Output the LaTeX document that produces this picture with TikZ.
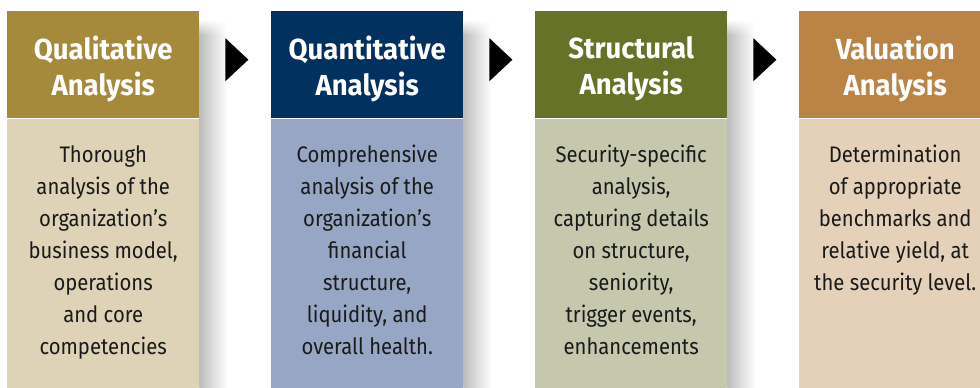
\documentclass[tikz,border=0pt]{standalone}
\usepackage{fontspec}
\setmainfont{Fira Sans}
\newfontfamily\panelfont[FakeStretch=0.9]{Fira Sans}
\newfontfamily\titlefont[FakeStretch=0.95]{Fira Sans}
\usetikzlibrary{calc,fadings}

\definecolor{headA}{HTML}{A68A3B}
\definecolor{bodyA}{HTML}{DED3B7}
\definecolor{headB}{HTML}{02315F}
\definecolor{bodyB}{HTML}{97A6C4}
\definecolor{headC}{HTML}{667227}
\definecolor{bodyC}{HTML}{C6C8AD}
\definecolor{headD}{HTML}{B98446}
\definecolor{bodyD}{HTML}{E5D1BA}
\definecolor{inktext}{HTML}{1A1A1A}

\begin{document}
\begin{tikzpicture}[x=1pt,y=-1pt,
  head/.style={minimum width=192pt, minimum height=107pt, inner sep=0pt,
    anchor=north west},
  title/.style={text=white, align=center, inner sep=0pt,
    font=\titlefont\bfseries\fontsize{29}{36}\selectfont},
  panel/.style={minimum width=192pt, minimum height=270pt, inner sep=0pt,
    anchor=north west},
  desc/.style={anchor=base, align=center, text=inktext, inner sep=0pt,
    font=\panelfont\fontsize{22.5}{32}\selectfont},
  marker/.style={fill=black},
  shadowbar/.style={left color=black!26, right color=white}]

\useasboundingbox (0,0) rectangle (980,388);
\clip (0,0) rectangle (980,388);

% column headers
\node[head, fill=headA] (h1) at (7,11) {};
\node[head, fill=headB] (h2) at (271,11) {};
\node[head, fill=headC] (h3) at (535,11) {};
\node[head, fill=headD] (h4) at (799,11) {};

% soft drop shadows to the right of the first three columns
\foreach \c in {h1,h2,h3}{
  \shade[shadowbar, path fading=north]
    ($(\c.north east)+(0,8)$) rectangle ($(\c.north east)+(28,24)$);
  \shade[shadowbar]
    ($(\c.north east)+(0,24)$) rectangle ($(\c.north east)+(28,377)$);
}

% header titles
\node[title] (n1) at ($(h1.center)+(0,4)$) {Qualitative\\Analysis};
\node[title] (n2) at ($(h2.center)+(0,4)$) {Quantitative\\Analysis};
\node[title] (n3) at ($(h3.center)+(0,4)$) {Structural\\Analysis};
\node[title] (n4) at ($(h4.center)+(0,4)$) {Valuation\\Analysis};

% description panels
\node[panel, fill=bodyA] (b1) at (h1.south west) {};
\node[panel, fill=bodyB] (b2) at (h2.south west) {};
\node[panel, fill=bodyC] (b3) at (h3.south west) {};
\node[panel, fill=bodyD] (b4) at (h4.south west) {};

% description texts (anchored at the baseline of their last line)
\node[desc] (t1) at (h1.center |- 0,354)
  {Thorough\\analysis of the\\organization’s\\business model,\\operations\\and core\\competencies};
\node[desc] (t2) at (h2.center |- 0,354)
  {Comprehensive\\analysis of the\\organization’s\\financial\\structure,\\liquidity, and\\overall health.};
\node[desc] (t3) at (h3.center |- 0,354)
  {Security-specific\\analysis,\\capturing details\\on structure,\\seniority,\\trigger events,\\enhancements};
\node[desc] (t4) at (h4.center |- 0,290)
  {Determination\\of appropriate\\benchmarks and\\relative yield, at\\the security level.};

% step markers between the columns
\foreach \c in {h1,h2,h3}{
  \fill[marker] ($(\c.east)+(26,-26.5)$) -- ($(\c.east)+(49,-5)$)
    -- ($(\c.east)+(26,16.5)$) -- cycle;
}
\end{tikzpicture}
\end{document}
